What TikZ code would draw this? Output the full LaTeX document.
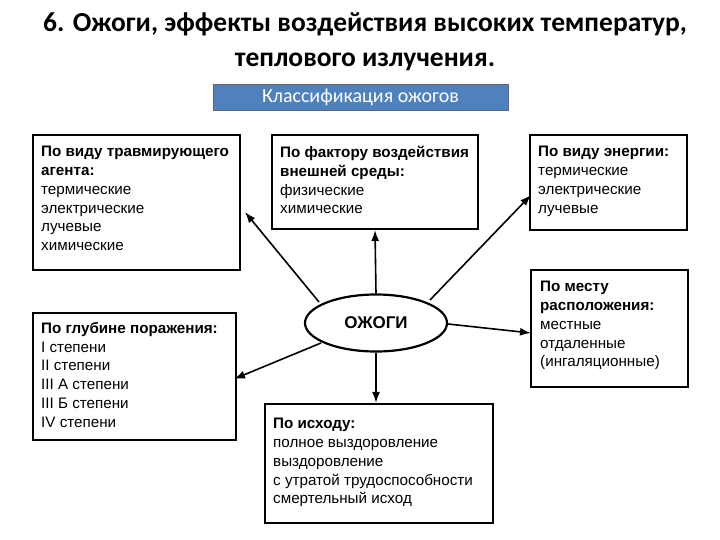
\documentclass[tikz,border=0pt]{standalone}
\usepackage{fontspec}
\setmainfont{Liberation Sans}
\newfontfamily\titlefont{Carlito}
\usetikzlibrary{shapes.geometric,arrows.meta}
\begin{document}
\begin{tikzpicture}[x=1pt,y=-1pt,
  cbox/.style={draw,line width=2.2pt,inner sep=0pt},
  ctext/.style={anchor=north west,align=left,font=\fontsize{15.2}{18.8}\selectfont,inner sep=0pt},
  arr/.style={-{Latex[length=11pt,width=8pt]},line width=1.6pt}]
\useasboundingbox (0,0) rectangle (720,540);
\node[font=\titlefont\bfseries\fontsize{27.5}{35}\selectfont,align=center] (title) at (365,42) {6. Ожоги, эффекты воздействия высоких температур,\\теплового излучения.};
\node[draw=black!60,fill={rgb,255:red,79;green,129;blue,189},minimum width=295pt,minimum height=26pt,text=white,font=\titlefont\fontsize{20}{20}\selectfont,inner sep=0pt] (cls) at (360.5,97) {Классификация ожогов};
\node[cbox,minimum width=207pt,minimum height=135pt] (b1) at (136.5,202.5) {};
\node[cbox,minimum width=206pt,minimum height=94pt] (b2) at (375,182) {};
\node[cbox,minimum width=157pt,minimum height=95pt] (b3) at (608.5,182.5) {};
\node[cbox,minimum width=157pt,minimum height=117pt] (b4) at (609.5,328.5) {};
\node[cbox,minimum width=203pt,minimum height=127pt] (b5) at (134.5,376.5) {};
\node[cbox,minimum width=228pt,minimum height=119pt] (b6) at (379,463.5) {};
\node[ctext] (t1) at (41,146) {\textbf{По виду травмирующего}\\\textbf{агента:}\\термические\\электрические\\лучевые\\химические};
\node[ctext] (t2) at (280,146) {\textbf{По фактору воздействия}\\\textbf{внешней среды:}\\физические\\химические};
\node[ctext] (t3) at (538,146) {\textbf{По виду энергии:}\\термические\\электрические\\лучевые};
\node[ctext] (t4) at (540,281) {\textbf{По месту}\\\textbf{расположения:}\\местные\\отдаленные\\(ингаляционные)};
\node[ctext] (t5) at (41,322) {\textbf{По глубине поражения:}\\I степени\\II степени\\III A степени\\III Б степени\\IV степени};
\node[ctext] (t6) at (273,418) {\textbf{По исходу:}\\полное выздоровление\\выздоровление\\с утратой трудоспособности\\смертельный исход};
\node[draw,ellipse,line width=2.2pt,minimum width=142pt,minimum height=57pt,font=\bfseries\fontsize{17}{18}\selectfont] (e) at (376,323) {ОЖОГИ};
\coordinate (a1) at (245,212);
\coordinate (a3) at (531,195);
\coordinate (a4) at (531,333);
\coordinate (a5) at (234,379);
\coordinate (s1) at (319,302);
\coordinate (s3) at (430,300);
\coordinate (s4) at (448,324);
\coordinate (s5) at (321,343);
\draw[arr] (s1) -- (a1);
\draw[arr] (e.north) -- (b2.south);
\draw[arr] (s3) -- (a3);
\draw[arr] (s4) -- (a4);
\draw[arr] (s5) -- (a5);
\draw[arr] (e.south) -- (b6.north -| e.south);
\end{tikzpicture}
\end{document}
